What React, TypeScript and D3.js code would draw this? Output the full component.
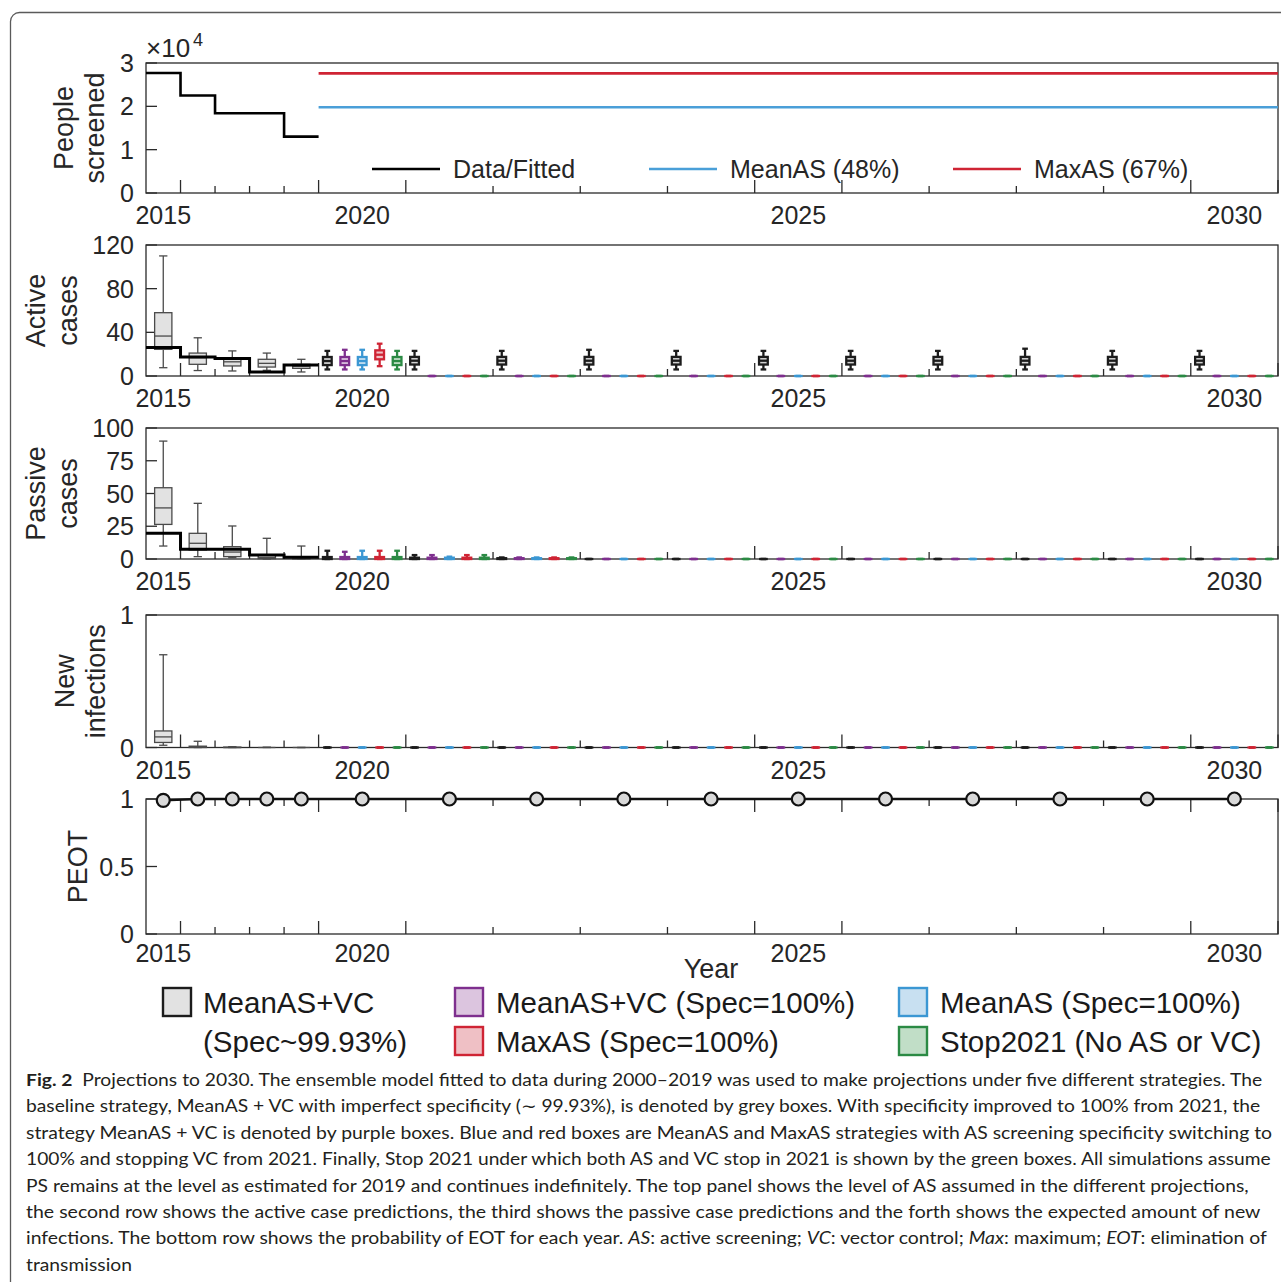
import * as d3 from 'd3'
import { useEffect, useRef } from 'react'

const W = 1281
const H = 1282
const FONT = "'Liberation Sans', Arial, Helvetica, sans-serif"

// x categories
const histYears = [2015, 2016, 2017, 2018, 2019]
const projYears = [2020, 2021, 2022, 2023, 2024, 2025, 2026, 2027, 2028, 2029, 2030]
const labelYears = [2015, 2020, 2025, 2030]

// strategies
const strategies = ['MeanAS+VC', 'MeanAS+VC (Spec=100%)', 'MeanAS (Spec=100%)', 'MaxAS (Spec=100%)', 'Stop2021 (No AS or VC)']
const stratColors = ['#1c1c1c', '#7e2f8e', '#3b97d3', '#cf2434', '#2b8a44']
const stratFills = ['#d2d2d2', '#dcc5df', '#c8e0f1', '#efc0c5', '#c1dec7']

// panel 1: people screened
const screenedFitted = [27700, 22500, 18400, 18400, 13000]
const screenedMeanAS = 19800
const screenedMaxAS = 27600

// box stats: [low whisker, q1, median, q3, high whisker]
const Z = [0, 0, 0, 0, 0]

const activeFitted = [26, 17.5, 16, 3.7, 10]
const activeHist = [
  [7.6, 24.4, 36.6, 58, 110],
  [5, 10.7, 16.8, 21, 35],
  [4.6, 9.2, 13, 16.8, 23],
  [5.2, 8.2, 11.6, 15.3, 21],
  [3.7, 7, 8.9, 10.7, 15.3],
]
const activeProj = [
  [[6, 10, 13.7, 17.4, 23], [6, 10.5, 14, 17.5, 23], [6, 10.5, 14, 17.5, 23], [6, 10.5, 14, 17.5, 24], [6, 10.5, 14, 17.5, 23], [6, 10.5, 14, 17.5, 23], [6, 10.5, 14, 17.5, 23], [6, 10.5, 14, 17.5, 23], [6, 10.5, 14, 17.5, 25], [6, 10.5, 14, 17.5, 23], [6, 10.5, 14, 17.5, 23]],
  [[6, 10, 13.7, 17.4, 24], Z, Z, Z, Z, Z, Z, Z, Z, Z, Z],
  [[6, 10, 13.7, 17.4, 24], Z, Z, Z, Z, Z, Z, Z, Z, Z, Z],
  [[9, 15.3, 19.5, 23.5, 29.6], Z, Z, Z, Z, Z, Z, Z, Z, Z, Z],
  [[6, 10, 13.7, 17.4, 23], Z, Z, Z, Z, Z, Z, Z, Z, Z, Z],
]

const passiveFitted = [19.6, 7.4, 7.4, 3, 1.3]
const passiveHist = [
  [9.9, 26.4, 39, 54.4, 90],
  [1.8, 6.9, 12, 19.6, 42.5],
  [1, 1.8, 5.3, 9.4, 25.2],
  [0, 0.3, 1, 3, 15.8],
  [0, 0, 0.5, 1.5, 9.9],
]
const passiveProj = [
  [[0, 0, 0.5, 1.5, 6.3], [0, 0, 0.3, 1, 3], [0, 0, 0.2, 0.6, 1.2], Z, Z, Z, Z, Z, Z, Z, Z],
  [[0, 0, 0.5, 1.5, 5.5], [0, 0, 0.3, 1, 3], [0, 0, 0.2, 0.6, 1.2], Z, Z, Z, Z, Z, Z, Z, Z],
  [[0, 0, 0.5, 1.5, 6.3], [0, 0, 0.3, 1, 1.8], [0, 0, 0.2, 0.6, 1.2], Z, Z, Z, Z, Z, Z, Z, Z],
  [[0, 0, 0.5, 1.5, 6.3], [0, 0, 0.3, 1, 3], [0, 0, 0.2, 0.6, 1.2], Z, Z, Z, Z, Z, Z, Z, Z],
  [[0, 0, 0.5, 1.5, 6.3], [0, 0, 0.3, 1, 3], [0, 0, 0.2, 0.6, 1.2], Z, Z, Z, Z, Z, Z, Z, Z],
]

const infectHist = [
  [0.017, 0.038, 0.08, 0.125, 0.7],
  [0, 0, 0.003, 0.01, 0.047],
  [0, 0, 0, 0.003, 0.006],
  [0, 0, 0, 0, 0.002],
  [0, 0, 0, 0, 0],
]
const infectProj = [
  [Z, Z, Z, Z, Z, Z, Z, Z, Z, Z, Z],
  [Z, Z, Z, Z, Z, Z, Z, Z, Z, Z, Z],
  [Z, Z, Z, Z, Z, Z, Z, Z, Z, Z, Z],
  [Z, Z, Z, Z, Z, Z, Z, Z, Z, Z, Z],
  [Z, Z, Z, Z, Z, Z, Z, Z, Z, Z, Z],
]

const peotHist = [0.99, 1, 1, 1, 1]
const peotProj = [1, 1, 1, 1, 1, 1, 1, 1, 1, 1, 1]

const legendRows = [
  { s: 0, lines: ['MeanAS+VC', '(Spec~99.93%)'] },
  { s: 1, lines: ['MeanAS+VC (Spec=100%)'] },
  { s: 2, lines: ['MeanAS (Spec=100%)'] },
  { s: 3, lines: ['MaxAS (Spec=100%)'] },
  { s: 4, lines: ['Stop2021 (No AS or VC)'] },
]

const caption = [
  [{ t: 'Fig. 2', b: true }, { t: '\u00a0\u00a0Projections to 2030. The ensemble model fitted to data during 2000\u20132019 was used to make projections under five different strategies. The' }],
  [{ t: 'baseline strategy, MeanAS + VC with imperfect specificity (\u223c 99.93%), is denoted by grey boxes. With specificity improved to 100% from 2021, the' }],
  [{ t: 'strategy MeanAS + VC is denoted by purple boxes. Blue and red boxes are MeanAS and MaxAS strategies with AS screening specificity switching to' }],
  [{ t: '100% and stopping VC from 2021. Finally, Stop 2021 under which both AS and VC stop in 2021 is shown by the green boxes. All simulations assume' }],
  [{ t: 'PS remains at the level as estimated for 2019 and continues indefinitely. The top panel shows the level of AS assumed in the different projections,' }],
  [{ t: 'the second row shows the active case predictions, the third shows the passive case predictions and the forth shows the expected amount of new' }],
  [{ t: 'infections. The bottom row shows the probability of EOT for each year. ' }, { t: 'AS', i: true }, { t: ': active screening; ' }, { t: 'VC', i: true }, { t: ': vector control; ' }, { t: 'Max', i: true }, { t: ': maximum; ' }, { t: 'EOT', i: true }, { t: ': elimination of' }],
  [{ t: 'transmission' }],
]
const captionEnds = [1263, 1262, 1273, 1272, 1250, 1262, 1267, 132]

const AX = '#2a2a2a'

function drawBox(g, cx, bw, s, y, stroke, fill, sw, capW) {
  const [lo, q1, med, q3, hi] = s
  g.append('line').attr('x1', cx).attr('x2', cx).attr('y1', y(hi)).attr('y2', y(q3))
    .attr('stroke', stroke).attr('stroke-width', sw)
  g.append('line').attr('x1', cx).attr('x2', cx).attr('y1', y(q1)).attr('y2', y(lo))
    .attr('stroke', stroke).attr('stroke-width', sw)
  for (const v of [lo, hi]) {
    g.append('line').attr('x1', cx - capW / 2).attr('x2', cx + capW / 2).attr('y1', y(v)).attr('y2', y(v))
      .attr('stroke', stroke).attr('stroke-width', sw)
  }
  g.append('rect').attr('x', cx - bw / 2).attr('y', y(q3)).attr('width', bw)
    .attr('height', Math.max(0, y(q1) - y(q3)))
    .attr('fill', fill).attr('stroke', stroke).attr('stroke-width', sw)
  g.append('line').attr('x1', cx - bw / 2).attr('x2', cx + bw / 2).attr('y1', y(med)).attr('y2', y(med))
    .attr('stroke', stroke).attr('stroke-width', sw)
}

function draw(svg) {
  const x = d3.scaleLinear().domain([2015, 2020, 2031]).range([146, 318.6, 1278])
  const left = x(2015)
  const right = x(2031)
  const boundaries = d3.range(2016, 2032)
  const longB = new Set(labelYears.flatMap((yr) => [yr, yr + 1]))

  svg.append('rect').attr('x', 10.5).attr('y', 12.5).attr('width', 1300).attr('height', 1300)
    .attr('rx', 9).attr('fill', '#fff').attr('stroke', '#5a5a5a').attr('stroke-width', 1.3)

  const panels = [
    { top: 63, bottom: 193, domain: [0, 30000], ticks: [0, 10000, 20000, 30000], fmt: (d) => String(d / 10000), label: ['People', 'screened'], lx: [73, 104], off: 31 },
    { top: 245, bottom: 376, domain: [0, 120], ticks: [0, 40, 80, 120], fmt: String, label: ['Active', 'cases'], lx: [45, 77], off: 31 },
    { top: 428, bottom: 559, domain: [0, 100], ticks: [0, 25, 50, 75, 100], fmt: String, label: ['Passive', 'cases'], lx: [45, 77], off: 31 },
    { top: 615, bottom: 747.5, domain: [0, 1], ticks: [0, 1], fmt: String, label: ['New', 'infections'], lx: [74, 105], off: 31 },
    { top: 799, bottom: 934, domain: [0, 1], ticks: [0, 0.5, 1], fmt: String, label: ['PEOT'], lx: [87], off: 28, topTicks: true },
  ]

  const ys = panels.map((p, pi) => {
    const g = svg.append('g')
    const y = d3.scaleLinear().domain(p.domain).range([p.bottom, p.top])
    g.append('rect').attr('x', left).attr('y', p.top).attr('width', right - left).attr('height', p.bottom - p.top)
      .attr('fill', 'none').attr('stroke', AX).attr('stroke-width', 1.3)
    p.ticks.forEach((t) => {
      g.append('line').attr('x1', left).attr('x2', left + 11).attr('y1', y(t)).attr('y2', y(t))
        .attr('stroke', AX).attr('stroke-width', 1.3)
      g.append('text').attr('x', 134).attr('y', y(t)).attr('dy', '0.36em').attr('text-anchor', 'end')
        .attr('font-family', FONT).attr('font-size', 25).attr('fill', '#262626').text(p.fmt(t))
    })
    boundaries.forEach((b) => {
      const len = longB.has(b) ? 13 : 7
      g.append('line').attr('x1', x(b)).attr('x2', x(b)).attr('y1', p.bottom).attr('y2', p.bottom - len)
        .attr('stroke', AX).attr('stroke-width', 1.3)
      if (p.topTicks) {
        g.append('line').attr('x1', x(b)).attr('x2', x(b)).attr('y1', p.top).attr('y2', p.top + len)
          .attr('stroke', AX).attr('stroke-width', 1.3)
      }
    })
    labelYears.forEach((yr) => {
      g.append('text').attr('x', (x(yr) + x(yr + 1)) / 2).attr('y', p.bottom + p.off)
        .attr('text-anchor', 'middle').attr('font-family', FONT).attr('font-size', 25).attr('fill', '#262626')
        .text(yr)
    })
    const cy = (p.top + p.bottom) / 2
    p.label.forEach((l, i) => {
      g.append('text').attr('transform', `translate(${p.lx[i]},${cy}) rotate(-90)`)
        .attr('text-anchor', 'middle').attr('font-family', FONT).attr('font-size', 27).attr('fill', '#262626')
        .text(l)
    })
    return { g, y, p, pi }
  })

  // panel 1
  {
    const { g, y } = ys[0]
    svg.append('text').attr('x', 146).attr('y', 57).attr('font-family', FONT).attr('font-size', 26)
      .attr('fill', '#262626').text('\u00d710')
    svg.append('text').attr('x', 193).attr('y', 46).attr('font-family', FONT).attr('font-size', 18)
      .attr('fill', '#262626').text('4')
    const pts = histYears.map((yr, i) => [x(yr), y(screenedFitted[i])])
    pts.push([x(2020), y(screenedFitted[screenedFitted.length - 1])])
    g.append('path').attr('d', d3.line().curve(d3.curveStepAfter)(pts)).attr('fill', 'none')
      .attr('stroke', '#000').attr('stroke-width', 2.6)
    g.append('line').attr('x1', x(2020)).attr('x2', x(2031)).attr('y1', y(screenedMaxAS)).attr('y2', y(screenedMaxAS))
      .attr('stroke', stratColors[3]).attr('stroke-width', 2.6)
    g.append('line').attr('x1', x(2020)).attr('x2', x(2031)).attr('y1', y(screenedMeanAS)).attr('y2', y(screenedMeanAS))
      .attr('stroke', '#4a9fd8').attr('stroke-width', 2.6)
    const leg = [
      { x: 372, c: '#000', t: 'Data/Fitted' },
      { x: 649, c: '#4a9fd8', t: 'MeanAS (48%)' },
      { x: 953, c: stratColors[3], t: 'MaxAS (67%)' },
    ]
    leg.forEach((l) => {
      g.append('line').attr('x1', l.x).attr('x2', l.x + 68).attr('y1', 169).attr('y2', 169)
        .attr('stroke', l.c).attr('stroke-width', 2.6)
      g.append('text').attr('x', l.x + 81).attr('y', 178).attr('font-family', FONT).attr('font-size', 25)
        .attr('fill', '#262626').text(l.t)
    })
  }

  // box panels
  const boxPanels = [
    { idx: 1, hist: activeHist, proj: activeProj, fitted: activeFitted },
    { idx: 2, hist: passiveHist, proj: passiveProj, fitted: passiveFitted },
    { idx: 3, hist: infectHist, proj: infectProj, fitted: null },
  ]
  boxPanels.forEach((bp) => {
    const { g, y } = ys[bp.idx]
    histYears.forEach((yr, i) => {
      const w = x(yr + 1) - x(yr)
      const cx = x(yr) + w / 2
      const bw = w * 0.5
      drawBox(g, cx, bw, bp.hist[i], y, '#4a4a4a', '#e2e2e2', 1.3, bw * 0.48)
    })
    projYears.forEach((yr, yi) => {
      const band = d3.scaleBand().domain(strategies).range([x(yr), x(yr + 1)])
      strategies.forEach((s, si) => {
        const cx = band(s) + band.bandwidth() / 2
        const bw = band.bandwidth() * 0.5
        drawBox(g, cx, bw, bp.proj[si][yi], y, stratColors[si], stratFills[si], 2.3, bw * 0.65)
      })
    })
    if (bp.fitted) {
      const pts = histYears.map((yr, i) => [x(yr), y(bp.fitted[i])])
      pts.push([x(2020), y(bp.fitted[bp.fitted.length - 1])])
      g.append('path').attr('d', d3.line().curve(d3.curveStepAfter)(pts)).attr('fill', 'none')
        .attr('stroke', '#000').attr('stroke-width', 3)
    }
  })

  // PEOT
  {
    const { g, y } = ys[4]
    const pts = [
      ...histYears.map((yr, i) => [(x(yr) + x(yr + 1)) / 2, y(peotHist[i])]),
      ...projYears.map((yr, i) => [(x(yr) + x(yr + 1)) / 2, y(peotProj[i])]),
    ]
    g.append('path').attr('d', d3.line()(pts)).attr('fill', 'none').attr('stroke', '#111').attr('stroke-width', 2.4)
    g.selectAll('circle.m').data(pts).join('circle').attr('cx', (d) => d[0]).attr('cy', (d) => d[1])
      .attr('r', 6.5).attr('fill', '#d9d9d9').attr('stroke', '#111').attr('stroke-width', 2.2)
  }

  svg.append('text').attr('x', 711).attr('y', 978).attr('text-anchor', 'middle').attr('font-family', FONT)
    .attr('font-size', 27).attr('fill', '#262626').text('Year')

  // bottom legend
  const legPos = [
    { x: 163, y: 988 }, { x: 455, y: 988 }, { x: 899, y: 988 }, { x: 455, y: 1027 }, { x: 899, y: 1027 },
  ]
  legendRows.forEach((r, i) => {
    const pos = legPos[i]
    svg.append('rect').attr('x', pos.x).attr('y', pos.y).attr('width', 28).attr('height', 28)
      .attr('fill', r.s === 0 ? '#e2e2e2' : stratFills[r.s]).attr('stroke', stratColors[r.s]).attr('stroke-width', 2.4)
    r.lines.forEach((l, li) => {
      svg.append('text').attr('x', pos.x + (r.s === 0 ? 40 : 41)).attr('y', pos.y + 25 + li * 39)
        .attr('font-family', FONT).attr('font-size', 29.5).attr('fill', '#1a1a1a').text(l)
    })
  })

  // caption, each line fitted to its measured width
  caption.forEach((segs, li) => {
    const t = svg.append('text').attr('x', 0).attr('y', 0).attr('font-family', "Lato, 'Noto Sans', sans-serif")
      .attr('font-size', 17.5).attr('fill', '#231f20')
    segs.forEach((s) => {
      t.append('tspan').attr('font-weight', s.b ? 700 : 400).attr('font-style', s.i ? 'italic' : 'normal').text(s.t)
    })
    const node = t.node()
    const w = node.getComputedTextLength()
    const k = w > 0 ? (captionEnds[li] - 26) / w : 1
    t.attr('transform', `translate(26,${1086 + li * 26.4}) scale(${k},1)`)
  })
}

export default function App() {
  const ref = useRef(null)
  useEffect(() => {
    if (!ref.current) return
    const svg = d3.select(ref.current)
    svg.selectAll('*').remove()
    draw(svg)
  }, [])
  return (
    <svg ref={ref} width={W} height={H}
      style={{ position: 'absolute', left: 0, top: 0, display: 'block', background: '#fff' }} />
  )
}
